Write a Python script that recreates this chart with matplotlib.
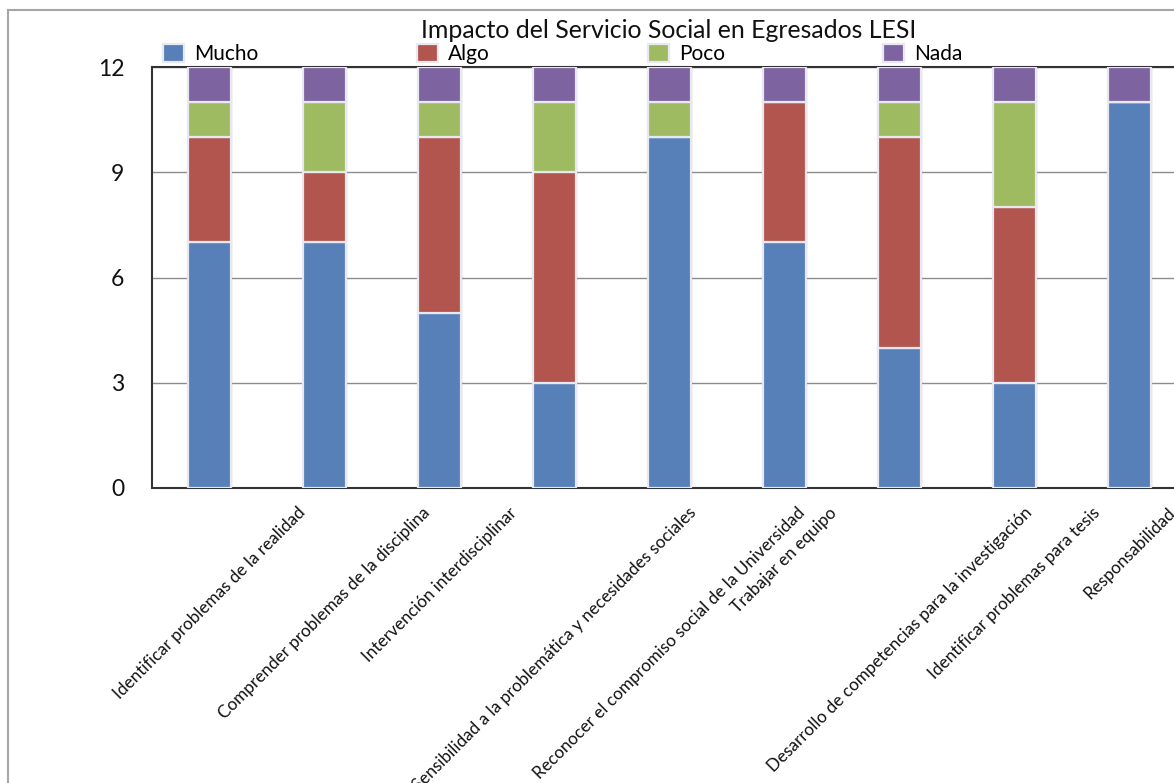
import matplotlib
matplotlib.use("Agg")
import matplotlib.pyplot as plt
from matplotlib.lines import Line2D
import numpy as np

categories = [
    "Identificar problemas de la realidad",
    "Comprender problemas de la disciplina",
    "Intervención interdisciplinar",
    "Sensibilidad a la problemática y necesidades sociales",
    "Reconocer el compromiso social de la Universidad",
    "Trabajar en equipo",
    "Desarrollo de competencias para la investigación",
    "Identificar problemas para tesis",
    "Responsabilidad",
]
mucho = [7, 7, 5, 3, 10, 7, 4, 3, 11]
algo = [3, 2, 5, 6, 0, 4, 6, 5, 0]
poco = [1, 2, 1, 2, 1, 0, 1, 3, 0]
nada = [1, 1, 1, 1, 1, 1, 1, 1, 1]
series_names = ["Mucho", "Algo", "Poco", "Nada"]
yticks = [0, 3, 6, 9, 12]
title = "Impacto del Servicio Social en Egresados LESI"

colors = ["#577FB8", "#B3554F", "#9EBB61", "#7D63A0"]

plt.rcParams["font.family"] = ["Lato", "DejaVu Sans"]

W, H = 1174, 783
fig = plt.figure(figsize=(W / 100, H / 100), dpi=100)
ax = fig.add_axes([152 / W, 1 - 488 / H, 1035 / W, (488 - 67) / H])

x = np.arange(len(categories))
width = 0.375
bottom = np.zeros(len(categories))
handles = []
for name, vals, col in zip(series_names, [mucho, algo, poco, nada], colors):
    vals = np.array(vals, dtype=float)
    # faint shadow around each segment
    ax.bar(x, vals, width + 0.025, bottom=bottom - 0.03, color="#000000",
           alpha=0.045, linewidth=0, zorder=2)
    b = ax.bar(x, vals, width, bottom=bottom, color=col, edgecolor="#E8E8F0",
               linewidth=1.6, zorder=3, label=name)
    handles.append(b)
    bottom += vals

ax.set_xlim(-0.5, len(categories) - 0.5)
ax.set_ylim(0, 12)
ax.set_yticks(yticks)
ax.set_yticklabels([str(v) for v in yticks], fontsize=16.5, color="#111111")
ax.tick_params(axis="y", length=0, pad=20)
ax.yaxis.grid(True, color="#8c8c8c", linewidth=1.0, zorder=0)
ax.set_axisbelow(True)

ax.set_xticks(x)
ax.set_xticklabels(categories, rotation=45, ha="center", va="top",
                   fontsize=12.3, color="#111111")
ax.tick_params(axis="x", length=0, pad=12)

for side in ["left", "bottom", "top"]:
    ax.spines[side].set_color("#333333")
    ax.spines[side].set_linewidth(1.5)
ax.spines["right"].set_visible(False)

fig.text(669 / W, 1 - 30 / H, title, ha="center", va="center", fontsize=17.9,
         color="#111111")

fig.legend(
    handles=handles, labels=series_names, ncol=4, mode="expand",
    loc="lower left", bbox_to_anchor=(163 / W, 1 - 64 / H, 800 / W, 24 / H),
    frameon=False, fontsize=15, handlelength=1.0, handleheight=1.0,
    handletextpad=0.5, borderaxespad=0, borderpad=0,
)

# outer frame
fig.add_artist(Line2D([8 / W, 8 / W], [0, 1 - 10 / H], color="#a6a6a6",
                      linewidth=1.5, transform=fig.transFigure))
fig.add_artist(Line2D([8 / W, 1], [1 - 10 / H, 1 - 10 / H], color="#a6a6a6",
                      linewidth=1.5, transform=fig.transFigure))

fig.savefig("out.png", dpi=100)
